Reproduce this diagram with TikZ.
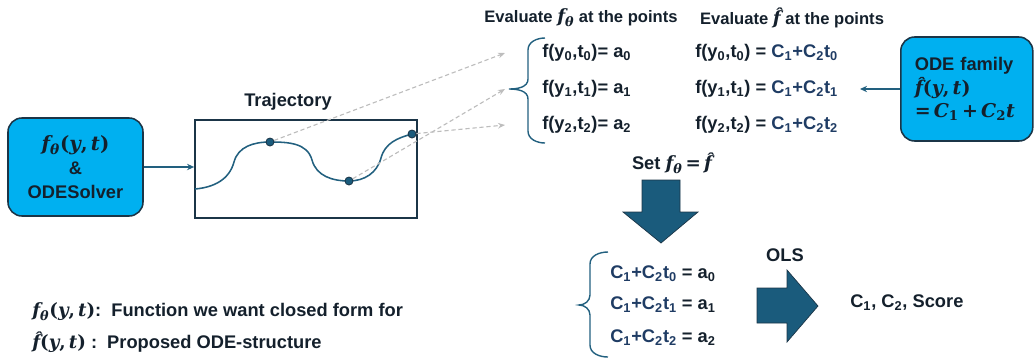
\documentclass[tikz,border=0pt]{standalone}
\usepackage{amsmath}
\usepackage{amssymb}
\usepackage{fontspec}
\setsansfont{Liberation Sans}
\newfontfamily\mathserif{DejaVu Serif}
\usepackage{xcolor}
\usepackage{tikz}
\usetikzlibrary{arrows.meta, positioning, calc}

\definecolor{inktext}{HTML}{14202C}
\definecolor{cyanfill}{HTML}{00B0F0}
\definecolor{boxline}{HTML}{1B3547}
\definecolor{curveblue}{HTML}{22607F}
\definecolor{arrowfill}{HTML}{1A5B7C}
\definecolor{eqblue}{HTML}{1F3C64}
\definecolor{dashgray}{HTML}{BDBDBD}

% serif bold letters for the formulas
\newcommand{\sv}[1]{{\mathserif\bfseries\itshape #1}}
\newcommand{\su}[1]{{\mathserif\bfseries #1}}
\newcommand{\fth}{\sv{f}\textsubscript{\sv{θ}}}
\newcommand{\fhat}{\sv{f^^^^0302}}
\newcommand{\yt}{\su{(}\sv{y}\su{,}\,\sv{t}\su{)}}

\begin{document}
\begin{tikzpicture}[x=0.025cm, y=-0.025cm,
   txt/.style={font=\sffamily\bfseries\fontsize{13}{16}\selectfont, text=inktext, inner sep=0pt},
   titletxt/.style={txt, font=\sffamily\bfseries\fontsize{11.8}{14}\selectfont},
   roundbox/.style={draw=boxline, line width=1.1pt, fill=cyanfill, rounded corners=0.35cm},
   trajdot/.style={circle, fill=arrowfill, draw=boxline, line width=0.6pt, minimum size=0.2cm, inner sep=0pt},
   dasharrow/.style={draw=dashgray, line width=0.8pt, dash pattern=on 3pt off 2pt, -{Stealth[length=5pt, width=4pt]}},
   linkarrow/.style={draw=curveblue, line width=0.9pt, -{Stealth[length=5pt, width=4.5pt]}},
   bracefig/.style={draw=curveblue, line width=1pt},
   bigarrow/.style={fill=arrowfill, draw=boxline, line width=0.5pt}]
\useasboundingbox (0,0) rectangle (1035,358);

% Solver and trajectory
\node[roundbox, txt, align=center, minimum width=3.375cm, minimum height=2.45cm] (solver) at (75.5,167)
   {\fontsize{14}{16}\selectfont\fth\yt\\[1pt] \&\\[1pt] ODESolver};
\node[draw=boxline, line width=1.2pt, minimum width=5.55cm, minimum height=2.45cm] (traj) at (306,169) {};
\node[txt] (trajlabel) at (288,102) {Trajectory};
\draw[linkarrow] (solver.east) -- (traj.west |- solver.east);

\draw[curveblue, line width=1.1pt] (195,189) to[out=5, in=-105] (234,162) to[out=75, in=180] (270,142)
   to[out=0, in=105] (312,160) to[out=-75, in=180] (349,181) to[out=0, in=-105] (381,158)
   to[out=75, in=195] (412,134);
\node[trajdot] (pt0) at (270,142) {};
\node[trajdot] (pt1) at (349,181) {};
\node[trajdot] (pt2) at (412,134) {};

% Evaluate at the points
\node[titletxt] (titlea) at (581,18) {Evaluate {\fontsize{13}{14}\selectfont\fth} at the points};
\node[titletxt] (titleb) at (792,18) {Evaluate {\fontsize{13}{14}\selectfont\fhat} at the points};
\foreach \i/\yy in {0/53, 1/89, 2/125} {
   \node[txt, anchor=west] (fa\i) at (542,\yy) {f(y\textsubscript{\i},t\textsubscript{\i})= a\textsubscript{\i}};
   \node[txt, anchor=west] (fb\i) at (695,\yy) {f(y\textsubscript{\i},t\textsubscript{\i}) = \textcolor{eqblue}{C\textsubscript{1}+C\textsubscript{2}t\textsubscript{\i}}};
   \coordinate (tip\i) at (505,\yy);
   \draw[dasharrow] (pt\i) -- (tip\i);
}
\draw[bracefig] (545,38) to[out=180, in=90] (528,50) -- (528,79) to[out=-90, in=0] (509,89)
   to[out=0, in=90] (528,99) -- (528,131) to[out=-90, in=180] (545,143);

% ODE family
\node[roundbox, txt, align=left, anchor=west, minimum width=3.3cm, minimum height=2.6cm, text width=2.6cm] (family) at (900,89)
   {ODE family\\[1pt] \fontsize{13.5}{16}\selectfont\fhat\yt\\[0pt]
    \fontsize{13.5}{16}\selectfont\su{=}\,\sv{C}\textsubscript{\su{1}}\,\su{+}\,\sv{C}\textsubscript{\su{2}}\sv{t}};
\coordinate (famtip) at (860,89);
\draw[linkarrow] (family.west) -- (famtip);

% Set f_theta = f hat
\node[txt] (setlabel) at (672,163) {Set \fth\,\su{=}\,\fhat};
\draw[bigarrow] (642,180) -- (680,180) -- (680,212) -- (698,212) -- (661,243) -- (623,212) -- (642,212) -- cycle;

% Linear system
\foreach \i/\yy in {0/274, 1/305, 2/338} {
   \node[txt, anchor=west] (fc\i) at (610,\yy) {\textcolor{eqblue}{C\textsubscript{1}+C\textsubscript{2}t\textsubscript{\i}} = a\textsubscript{\i}};
}
\draw[bracefig] (608,252) to[out=180, in=90] (590,264) -- (590,295) to[out=-90, in=0] (579,305)
   to[out=0, in=90] (590,315) -- (590,345) to[out=-90, in=180] (608,357);

% OLS
\node[txt] (olslabel) at (785,255) {OLS};
\draw[bigarrow] (757,288) -- (787,288) -- (787,270) -- (818,306) -- (787,342) -- (787,323) -- (757,323) -- cycle;
\node[txt, anchor=west] (result) at (850,303) {C\textsubscript{1}, C\textsubscript{2}, Score};

% Legend
\node[txt, anchor=west] (legenda) at (32,312) {\fth\yt:\ \ Function we want closed form for};
\node[txt, anchor=west] (legendb) at (32,342) {\fhat\yt\ :\ \ Proposed ODE-structure};
\end{tikzpicture}
\end{document}
